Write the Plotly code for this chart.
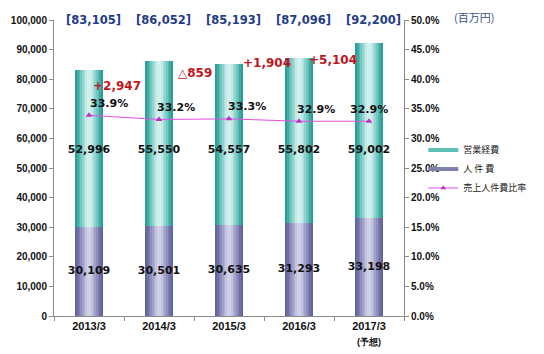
import plotly.graph_objects as go

# ---- data ----
categories = ["2013/3", "2014/3", "2015/3", "2016/3", "2017/3"]
tick_labels = ["2013/3", "2014/3", "2015/3", "2016/3",
               "2017/3<br><span style='font-size:9px'>(予想)</span>"]
labor_cost = [30109, 30501, 30635, 31293, 33198]          # 人件費
operating_exp = [52996, 55550, 54557, 55802, 59002]        # 営業経費
totals = ["[83,105]", "[86,052]", "[85,193]", "[87,096]", "[92,200]"]
diff_labels = ["+2,947", "△859", "+1,904", "+5,104"]
labor_ratio = [0.339, 0.332, 0.333, 0.329, 0.329]           # 売上人件費比率

# ---- style / layout constants ----
BAR_W = 0.39
teal_shades = ["#2a9f97", "#41aca4", "#5ab9b2", "#74c6c0", "#8fd3ce",
               "#a9dfdb", "#c0e9e6", "#d2f0ee"]
purple_shades = ["#64649e", "#7070a8", "#7f7fb2", "#8f8fbd", "#a0a0c8",
                 "#b1b1d3", "#c2c2de", "#d0d0e6"]
stripe_frac = [1.0, 0.88, 0.76, 0.64, 0.52, 0.40, 0.28, 0.16]
diff_pos = [(0.40, 77700), (1.51, 82100), (2.54, 85400), (3.49, 86400)]
pct_xshift = [20, 17, 18, 17, 0]
OPEX_LABEL_LEVEL = 56000   # the original places these labels at one height

FONT = "DejaVu Sans"
TICKFONT = "Liberation Sans"
JP = "Noto Sans CJK JP"

fig = go.Figure()

# stacked bars built from stripes to imitate a cylinder gradient
for f, tc, pc in zip(stripe_frac, teal_shades, purple_shades):
    fig.add_trace(go.Bar(x=categories, y=labor_cost, width=BAR_W * f,
                         marker=dict(color=pc, line=dict(width=0)),
                         showlegend=False, hoverinfo="skip"))
    fig.add_trace(go.Bar(x=categories, y=operating_exp, base=labor_cost,
                         width=BAR_W * f,
                         marker=dict(color=tc, line=dict(width=0)),
                         showlegend=False, hoverinfo="skip"))

# in-bar labels
fig.add_trace(go.Scatter(
    x=categories, y=[v / 2 for v in labor_cost], mode="text",
    text=[f"{v:,}" for v in labor_cost],
    textfont=dict(family=FONT, size=11, color="#111", weight="bold"),
    showlegend=False, hoverinfo="skip"))
fig.add_trace(go.Scatter(
    x=categories, y=[OPEX_LABEL_LEVEL] * len(categories),
    mode="text", text=[f"{v:,}" for v in operating_exp],
    textfont=dict(family=FONT, size=11, color="#111", weight="bold"),
    showlegend=False, hoverinfo="skip"))

# ratio line
fig.add_trace(go.Scatter(
    x=categories, y=labor_ratio, yaxis="y2", mode="lines+markers",
    line=dict(color="#e050e0", width=1),
    marker=dict(symbol="triangle-up", size=6, color="#c030c0"),
    showlegend=False, hoverinfo="skip"))

# legend entries (line style swatches as in the original)
fig.add_trace(go.Scatter(x=[None], y=[None], mode="lines", name="営業経費",
                         line=dict(color="#5cc0b4", width=4)))
fig.add_trace(go.Scatter(x=[None], y=[None], mode="lines", name="人 件 費",
                         line=dict(color="#8080ac", width=4)))
fig.add_trace(go.Scatter(x=[None], y=[None], mode="lines+markers",
                         name="売上人件費比率", yaxis="y2",
                         line=dict(color="#e050e0", width=1),
                         marker=dict(symbol="triangle-up", size=5, color="#c030c0")))

annotations = []
# totals above the plot
for c, t in zip(categories, totals):
    annotations.append(dict(x=c, y=1.0, xref="x", yref="paper", text=t,
                            showarrow=False, yshift=0, xshift=4,
                            font=dict(family=FONT, size=11.5, color="#1f3c88",
                                      weight="bold"),
                            xanchor="center", yanchor="middle"))
# differences
for (px, py), t in zip(diff_pos, diff_labels):
    annotations.append(dict(x=px, y=py, xref="x", yref="y", text=t,
                            showarrow=False,
                            font=dict(family=FONT, size=12, color="#c0161c",
                                      weight="bold"),
                            xanchor="center", yanchor="middle"))
# ratio labels
for c, v, xs in zip(categories, labor_ratio, pct_xshift):
    annotations.append(dict(x=c, y=v, xref="x", yref="y2", text=f"{v*100:.1f}%",
                            showarrow=False, xshift=xs, yshift=12,
                            font=dict(family=FONT, size=11, color="#111",
                                      weight="bold"),
                            xanchor="center", yanchor="middle"))
# unit
annotations.append(dict(x=1.2, y=1.0, xref="paper", yref="paper",
                        text="(百万円)", showarrow=False, yshift=3,
                        font=dict(family=JP, size=11, color="#3a4e8c"),
                        xanchor="center", yanchor="middle"))

fig.update_layout(
    width=544, height=354,
    margin=dict(l=54, r=140, t=20, b=38, autoexpand=False),
    paper_bgcolor="white", plot_bgcolor="white",
    barmode="overlay", bargap=0,
    showlegend=True,
    legend=dict(x=1.055, y=0.61, xanchor="left", yanchor="top",
                font=dict(family=JP, size=9, color="#222"),
                bgcolor="rgba(0,0,0,0)", tracegroupgap=0, itemwidth=30,
                traceorder="normal"),
    xaxis=dict(type="category", categoryorder="array", categoryarray=categories,
               tickvals=categories, ticktext=tick_labels,
               showline=True, linecolor="#8a8a8a", linewidth=1,
               ticks="outside", tickson="boundaries", ticklen=4,
               tickcolor="#8a8a8a",
               tickfont=dict(family=TICKFONT, size=11, color="#111",
                             weight="bold"),
               showgrid=False, zeroline=False, fixedrange=True),
    yaxis=dict(range=[0, 100000], dtick=10000, tickformat=",d",
               showline=True, linecolor="#8a8a8a", linewidth=1,
               ticks="outside", ticklen=4, tickcolor="#8a8a8a",
               tickfont=dict(family=TICKFONT, size=10, color="#111",
                             weight="bold"),
               showgrid=False, zeroline=False, automargin=False),
    yaxis2=dict(range=[0, 0.5], dtick=0.05, tickformat=".1%",
                overlaying="y", side="right",
                showline=True, linecolor="#8a8a8a", linewidth=1,
                ticks="outside", ticklen=4, tickcolor="#8a8a8a",
                tickfont=dict(family=TICKFONT, size=10, color="#111",
                              weight="bold"),
                showgrid=False, zeroline=False, automargin=False),
    annotations=annotations,
)

fig.write_html("out.html")
